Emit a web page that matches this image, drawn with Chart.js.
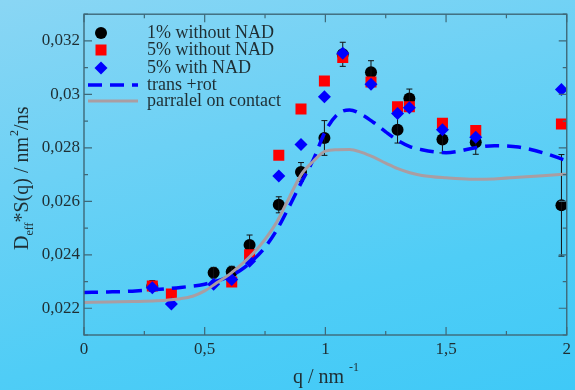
<!DOCTYPE html>
<html>
<head>
<meta charset="utf-8">
<script src="https://cdn.jsdelivr.net/npm/chart.js@4.4.1/dist/chart.umd.min.js"></script>
<style>
  html, body { margin: 0; padding: 0; }
  body {
    width: 575px; height: 390px; overflow: hidden;
    background: linear-gradient(165deg, #8ad6f4 0%, #6cd1f5 35%, #4fcdf6 70%, #3fc9f7 100%);
  }
  canvas { display: block; }
</style>
</head>
<body>
<canvas id="chart" width="575" height="390"></canvas>
<script>
// ---- measured series ----
// 1% without NAD (with error bars)
const q1 = [0.283, 0.537, 0.612, 0.686, 0.807, 0.899, 0.996, 1.072, 1.189, 1.299, 1.348, 1.485, 1.623, 1.978];
const d1 = [0.02283, 0.02333, 0.02337, 0.02437, 0.02587, 0.0271, 0.02837, 0.0315, 0.03083, 0.02868, 0.02985, 0.02831, 0.02821, 0.02585];
const e1 = [0.0002, 0.0002, 0.0002, 0.00037, 0.0003, 0.00035, 0.00065, 0.00045, 0.00043, 0.0005, 0.00035, 0.0005, 0.00045, 0.0019];

// 5% without NAD
const q2 = [0.283, 0.362, 0.612, 0.686, 0.807, 0.899, 0.996, 1.072, 1.189, 1.299, 1.348, 1.485, 1.623, 1.978];
const d2 = [0.02283, 0.02253, 0.02298, 0.0240, 0.02772, 0.02945, 0.0305, 0.03138, 0.03046, 0.02954, 0.02954, 0.02892, 0.02865, 0.02889];

// 5% with NAD
const q3 = [0.283, 0.362, 0.537, 0.612, 0.686, 0.807, 0.899, 0.996, 1.072, 1.189, 1.299, 1.348, 1.485, 1.623, 1.978];
const d3 = [0.02277, 0.02216, 0.0229, 0.02308, 0.02376, 0.02695, 0.02813, 0.02991, 0.03154, 0.03038, 0.02929, 0.0295, 0.02868, 0.0284, 0.03018];

// ---- model curves ----
// trans +rot
const qTR = [0, 0.1, 0.2, 0.3, 0.4, 0.5, 0.6, 0.65, 0.7, 0.75, 0.8, 0.85, 0.9, 0.95, 1.0, 1.05, 1.1, 1.15, 1.2, 1.25, 1.3, 1.35, 1.4, 1.45, 1.5, 1.55, 1.6, 1.7, 1.8, 1.9, 2.0];
const dTR = [0.02259, 0.02261, 0.02264, 0.0227, 0.02278, 0.0229, 0.02318, 0.02343, 0.0238, 0.02428, 0.02495, 0.0258, 0.0267, 0.02756, 0.02862, 0.02925, 0.02942, 0.02925, 0.02895, 0.0286, 0.02828, 0.02805, 0.02793, 0.02785, 0.02782, 0.02787, 0.02797, 0.02808, 0.02803, 0.02782, 0.02752];

// parralel on contact
const qPC = [0, 0.1, 0.2, 0.3, 0.4, 0.45, 0.5, 0.55, 0.6, 0.65, 0.7, 0.75, 0.8, 0.85, 0.9, 0.95, 1.0, 1.05, 1.1, 1.15, 1.2, 1.25, 1.3, 1.35, 1.4, 1.5, 1.6, 1.7, 1.8, 1.9, 2.0];
const dPC = [0.02222, 0.02223, 0.02225, 0.02228, 0.02236, 0.02245, 0.02265, 0.02295, 0.02325, 0.02362, 0.02405, 0.02458, 0.02525, 0.02614, 0.027, 0.0275, 0.02788, 0.02793, 0.02794, 0.02783, 0.02765, 0.02743, 0.02722, 0.02707, 0.02697, 0.02688, 0.02683, 0.02684, 0.0269, 0.02696, 0.02702];

// ---- axes ----
const xTickValues = [0, 0.5, 1, 1.5, 2];
const xTickLabels = ['0', '0,5', '1', '1,5', '2'];
const xMinorValues = [0.25, 0.75, 1.25, 1.75];
const yTickValues = [0.022, 0.024, 0.026, 0.028, 0.030, 0.032];
const yTickLabels = ['0,022', '0,024', '0,026', '0,028', '0,03', '0,032'];
const yMinorValues = [0.021, 0.023, 0.025, 0.027, 0.029, 0.031, 0.033];

const seriesNames = ['1% without NAD', '5% without NAD', '5% with NAD', 'trans +rot', 'parralel on contact'];

const SERIF = '"Liberation Serif", "DejaVu Serif", serif';
const TEXT = '#1f2e33';
const FRAME = '#3e6878';
const GREY_LINE = '#aa9da2';

const zip = (xs, ys) => xs.map((x, i) => ({ x: x, y: ys[i] }));

// inward ticks + frame
const framePlugin = {
  id: 'frame',
  afterDatasetsDraw(chart) {
    const { ctx, chartArea: a, scales: { x, y } } = chart;
    ctx.save();
    ctx.strokeStyle = FRAME;
    ctx.lineWidth = 1.4;
    ctx.strokeRect(a.left, a.top, a.right - a.left, a.bottom - a.top);
    ctx.lineWidth = 1.2;
    ctx.beginPath();
    const tx = (v, len) => {
      const px = x.getPixelForValue(v);
      ctx.moveTo(px, a.bottom); ctx.lineTo(px, a.bottom - len);
      ctx.moveTo(px, a.top); ctx.lineTo(px, a.top + len);
    };
    const ty = (v, len) => {
      const py = y.getPixelForValue(v);
      ctx.moveTo(a.left, py); ctx.lineTo(a.left + len, py);
      ctx.moveTo(a.right, py); ctx.lineTo(a.right - len, py);
    };
    xTickValues.forEach(v => tx(v, 8));
    xMinorValues.forEach(v => tx(v, 4));
    yTickValues.forEach(v => ty(v, 8));
    yMinorValues.forEach(v => ty(v, 4));
    ctx.stroke();
    ctx.restore();
  }
};

// error bars for the 1% series
const errorBarPlugin = {
  id: 'errorBars',
  afterDatasetDraw(chart, args) {
    if (args.index !== 0) return;
    const { ctx, scales: { x, y } } = chart;
    ctx.save();
    ctx.strokeStyle = '#111';
    ctx.lineWidth = 1;
    ctx.beginPath();
    q1.forEach((q, i) => {
      const px = x.getPixelForValue(q);
      const top = y.getPixelForValue(d1[i] + e1[i]);
      const bot = y.getPixelForValue(d1[i] - e1[i]);
      ctx.moveTo(px, top); ctx.lineTo(px, bot);
      ctx.moveTo(px - 3, top); ctx.lineTo(px + 3, top);
      ctx.moveTo(px - 3, bot); ctx.lineTo(px + 3, bot);
    });
    ctx.stroke();
    ctx.restore();
  }
};

// legend box and axis titles
const textPlugin = {
  id: 'texts',
  afterDraw(chart) {
    const { ctx } = chart;
    ctx.save();
    // legend
    const symX = 101, textX = 147;
    const rows = [33, 50, 68, 85, 101];
    ctx.fillStyle = '#000';
    ctx.beginPath(); ctx.arc(symX, rows[0], 6, 0, Math.PI * 2); ctx.fill();
    ctx.fillStyle = '#ff0000';
    ctx.fillRect(symX - 5.5, rows[1] - 5.5, 11, 11);
    ctx.fillStyle = '#0000ff';
    ctx.beginPath();
    ctx.moveTo(symX, rows[2] - 6.5); ctx.lineTo(symX + 6.5, rows[2]);
    ctx.lineTo(symX, rows[2] + 6.5); ctx.lineTo(symX - 6.5, rows[2]);
    ctx.closePath(); ctx.fill();
    ctx.lineWidth = 3.5; ctx.strokeStyle = '#0000ff';
    ctx.setLineDash([14, 8]);
    ctx.beginPath(); ctx.moveTo(88, rows[3]); ctx.lineTo(138, rows[3]); ctx.stroke();
    ctx.setLineDash([]);
    ctx.lineWidth = 3; ctx.strokeStyle = GREY_LINE;
    ctx.beginPath(); ctx.moveTo(88, rows[4]); ctx.lineTo(138, rows[4]); ctx.stroke();

    ctx.fillStyle = TEXT;
    ctx.font = '18px ' + SERIF;
    ctx.textBaseline = 'middle';
    ctx.textAlign = 'left';
    seriesNames.forEach((n, i) => ctx.fillText(n, textX, rows[i]));

    // x title: q / nm^-1
    ctx.textBaseline = 'alphabetic';
    ctx.font = '20px ' + SERIF;
    ctx.fillText('q / nm', 293, 383);
    ctx.font = '12px ' + SERIF;
    ctx.fillText('-1', 349, 371);

    // y title: D_eff *S(q) / nm^2/ns
    ctx.translate(28, 250);
    ctx.rotate(-Math.PI / 2);
    let cx = 0;
    ctx.font = '20px ' + SERIF;
    ctx.fillText('D', cx, 0); cx += ctx.measureText('D').width;
    ctx.font = '12px ' + SERIF;
    ctx.fillText('eff', cx, 5); cx += ctx.measureText('eff').width;
    ctx.font = '20px ' + SERIF;
    const mid = '*S(q) / nm';
    ctx.fillText(mid, cx, 0); cx += ctx.measureText(mid).width;
    ctx.font = '12px ' + SERIF;
    ctx.fillText('2', cx + 1, -10); cx += ctx.measureText('2').width + 1;
    ctx.font = '20px ' + SERIF;
    ctx.fillText('/ns', cx, 0);
    ctx.restore();
  }
};

new Chart(document.getElementById('chart'), {
  type: 'scatter',
  data: {
    datasets: [
      { label: seriesNames[0], data: zip(q1, d1), order: 4,
        pointStyle: 'circle', pointRadius: 6, pointBackgroundColor: '#000', pointBorderWidth: 0, showLine: false },
      { label: seriesNames[1], data: zip(q2, d2), order: 3,
        pointStyle: 'rect', pointRadius: 7.8, pointBackgroundColor: '#ff0000', pointBorderWidth: 0, showLine: false },
      { label: seriesNames[2], data: zip(q3, d3), order: 2,
        pointStyle: 'rectRot', pointRadius: 6.5, pointBackgroundColor: '#0000ff', pointBorderWidth: 0, showLine: false },
      { label: seriesNames[3], data: zip(qTR, dTR), order: 1, type: 'line',
        borderColor: '#0000ff', borderWidth: 3.5, borderDash: [14, 8], pointRadius: 0,
        cubicInterpolationMode: 'monotone', fill: false },
      { label: seriesNames[4], data: zip(qPC, dPC), order: 0, type: 'line',
        borderColor: GREY_LINE, borderWidth: 3, pointRadius: 0,
        cubicInterpolationMode: 'monotone', fill: false }
    ]
  },
  options: {
    responsive: false,
    animation: false,
    layout: { padding: { top: 11, right: 7, left: 0, bottom: 0 } },
    plugins: { legend: { display: false }, tooltip: { enabled: false } },
    scales: {
      x: {
        type: 'linear', min: 0, max: 2,
        grid: { display: false, drawTicks: false },
        border: { display: false },
        afterBuildTicks: s => { s.ticks = xTickValues.map(v => ({ value: v })); },
        afterFit: s => { s.height = 55; },
        ticks: {
          padding: 4, color: TEXT, font: { family: SERIF, size: 17 },
          callback: (v) => xTickLabels[xTickValues.indexOf(v)]
        }
      },
      y: {
        type: 'linear', min: 0.021, max: 0.033,
        grid: { display: false, drawTicks: false },
        border: { display: false },
        afterBuildTicks: s => { s.ticks = yTickValues.map(v => ({ value: v })); },
        afterFit: s => { s.width = 84; },
        ticks: {
          padding: 4, color: TEXT, font: { family: SERIF, size: 17 },
          callback: (v) => yTickLabels[yTickValues.findIndex(t => Math.abs(t - v) < 1e-9)]
        }
      }
    }
  },
  plugins: [errorBarPlugin, framePlugin, textPlugin]
});
</script>
</body>
</html>
